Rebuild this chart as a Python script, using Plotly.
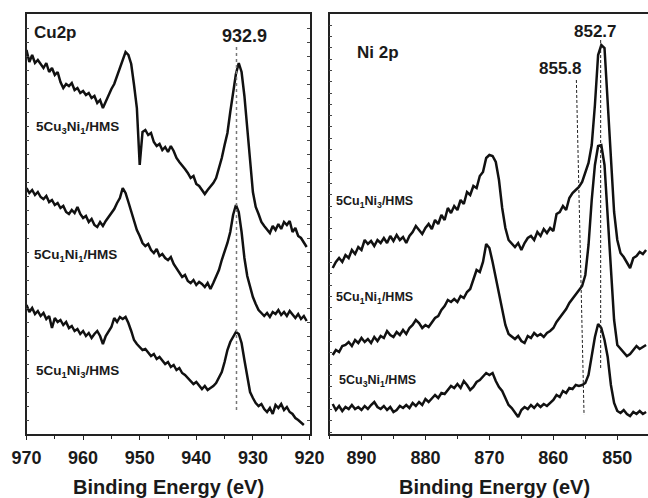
import numpy as np
import plotly.graph_objects as go

# ---------------- data ----------------
# Cu 2p panel: binding energy grid (eV), 0.5 eV step
cu_energy = np.linspace(970.0, 920.5, 100)
cu_3ni1 = [384, 372, 379, 371, 374, 370, 366, 371, 362, 366,
           359, 362, 352, 346, 350, 348, 351, 344, 346, 341,
           343, 339, 341, 336, 338, 331, 334, 326, 333, 338,
           345, 350, 358, 366, 374, 382, 379, 370, 349, 326,
           269, 302, 304, 299, 301, 292, 288, 290, 284, 287,
           282, 288, 283, 276, 272, 269, 265, 261, 256, 258,
           250, 248, 244, 240, 244, 247, 251, 256, 266, 276,
           289, 301, 322, 342, 360, 371, 362, 338, 309, 274,
           242, 227, 220, 212, 208, 204, 201, 208, 204, 210,
           205, 212, 209, 213, 202, 206, 198, 196, 192, 187]
cu_1ni1 = [246, 241, 244, 239, 242, 237, 235, 238, 232, 234,
           229, 231, 226, 228, 222, 220, 224, 221, 227, 220,
           216, 218, 212, 215, 209, 207, 212, 208, 213, 217,
           222, 225, 231, 236, 246, 241, 232, 222, 214, 204,
           198, 191, 188, 190, 184, 181, 185, 178, 180, 176,
           174, 177, 170, 166, 162, 157, 159, 153, 151, 154,
           149, 152, 150, 147, 151, 145, 151, 158, 164, 174,
           182, 191, 202, 219, 229, 222, 202, 176, 158, 146,
           137, 130, 124, 121, 118, 121, 117, 122, 120, 124,
           119, 122, 118, 123, 119, 116, 120, 115, 118, 113]
cu_1ni3 = [129, 122, 126, 120, 123, 118, 121, 115, 118, 106,
           116, 112, 114, 109, 112, 106, 108, 103, 105, 100,
           103, 98, 101, 96, 100, 103, 98, 90, 98, 102,
           107, 116, 112, 117, 115, 117, 111, 103, 94, 90,
           87, 84, 85, 81, 78, 80, 75, 77, 73, 70,
           72, 67, 69, 64, 66, 61, 59, 56, 54, 50,
           52, 48, 45, 48, 44, 46, 48, 51, 56, 62,
           72, 84, 92, 97, 102, 100, 91, 74, 56, 42,
           36, 31, 28, 30, 25, 22, 26, 20, 29, 26,
           30, 24, 27, 22, 20, 16, 14, 11, 9]

# Ni 2p panel: binding energy grid (eV), 0.5 eV step
ni_energy = np.linspace(894.5, 845.5, 99)
ni_1ni3 = [166, 172, 176, 172, 179, 176, 184, 180, 187, 184,
           194, 190, 193, 188, 194, 191, 196, 191, 198, 193,
           199, 194, 197, 191, 198, 202, 208, 204, 200, 206,
           210, 205, 214, 210, 219, 214, 226, 221, 228, 224,
           234, 230, 242, 239, 248, 246, 258, 262, 276, 279,
           278, 272, 254, 226, 206, 194, 190, 187, 191, 184,
           191, 196, 198, 194, 202, 198, 205, 201, 206, 203,
           220, 222, 228, 224, 236, 241, 244, 247, 252, 262,
           271, 289, 329, 379, 389, 386, 329, 269, 222, 194,
           181, 177, 172, 166, 176, 178, 182, 180, 184]
ni_1ni1 = [79, 84, 82, 88, 89, 92, 88, 94, 91, 96,
           92, 95, 91, 97, 93, 98, 96, 103, 99, 97,
           102, 99, 104, 100, 106, 109, 114, 111, 106, 109,
           107, 112, 116, 118, 124, 128, 134, 132, 135, 132,
           138, 136, 142, 145, 154, 164, 162, 172, 190, 186,
           172, 156, 141, 124, 109, 100, 97, 95, 98, 93,
           91, 98, 96, 101, 98, 100, 97, 101, 103, 106,
           112, 116, 120, 125, 131, 135, 140, 144, 148, 159,
           189, 234, 269, 288, 289, 269, 219, 166, 114, 89,
           85, 81, 78, 80, 84, 88, 85, 87, 89]
ni_3ni1 = [30, 24, 28, 23, 27, 25, 29, 25, 27, 24,
           28, 25, 29, 32, 27, 25, 28, 24, 27, 22,
           24, 28, 26, 29, 26, 31, 28, 32, 29, 35,
           32, 36, 39, 36, 41, 40, 44, 48, 46, 50,
           46, 53, 49, 44, 47, 52, 54, 58, 61, 59,
           61, 53, 47, 43, 36, 29, 26, 22, 17, 24,
           27, 25, 29, 26, 30, 27, 30, 28, 31, 34,
           39, 37, 43, 41, 46, 45, 49, 48, 49, 51,
           59, 79, 97, 110, 106, 94, 77, 49, 31, 23,
           21, 24, 20, 18, 22, 20, 23, 20, 22]

# reference peak lines (energy, intensity ends)
cu_ref_x = [932.9, 932.9]
cu_ref_y = [387, 24]
ni_ref1_x = [856.4, 855.2]
ni_ref1_y = [354, 19]
ni_ref2_x = [852.6, 852.6]
ni_ref2_y = [394, 64]

cu_ticks = [970, 960, 950, 940, 930, 920]
ni_ticks = [890, 880, 870, 860, 850]

# ---------------- figure ----------------
W, H = 648, 498
FONT = "Liberation Sans, Arial, sans-serif"
TXT = "#1a1a1a"
LINE = dict(color="#111111", width=2.5)

fig = go.Figure()
for ys, e in [(cu_3ni1, cu_energy), (cu_1ni1, cu_energy), (cu_1ni3, cu_energy[:len(cu_1ni3)])]:
    fig.add_trace(go.Scatter(x=e, y=ys, mode="lines", line=LINE,
                             xaxis="x", yaxis="y", showlegend=False))
for ys in [ni_1ni3, ni_1ni1, ni_3ni1]:
    fig.add_trace(go.Scatter(x=ni_energy, y=ys, mode="lines", line=LINE,
                             xaxis="x2", yaxis="y2", showlegend=False))

fig.add_trace(go.Scatter(x=cu_ref_x, y=cu_ref_y, mode="lines",
                         line=dict(color="#777777", width=1.5, dash="dot"),
                         xaxis="x", yaxis="y", showlegend=False))
for rx, ry in [(ni_ref1_x, ni_ref1_y), (ni_ref2_x, ni_ref2_y)]:
    fig.add_trace(go.Scatter(x=rx, y=ry, mode="lines",
                             line=dict(color="#222222", width=1, dash="3px,2px"),
                             xaxis="x2", yaxis="y2", showlegend=False))

def px(x):
    return x / W

def py(y):
    return 1 - y / H

ydom = [py(434), py(14)]
common_x = dict(showline=True, linecolor="#222222", linewidth=1.5, mirror=True,
                ticks="outside", ticklen=4, tickwidth=1.2, tickcolor="#222222",
                showgrid=False, zeroline=False, automargin=False,
                ticklabelstandoff=3,
                tickfont=dict(family=FONT, size=18, color=TXT, weight="bold"),
                minor=dict(ticks="outside", ticklen=3, dtick=5, tickcolor="#222222", tickwidth=1))
common_y = dict(showline=True, linecolor="#222222", linewidth=1.5,
                ticks="inside", ticklen=3, tickwidth=1, tickcolor="#444444",
                showgrid=False, zeroline=False, showticklabels=False, automargin=False,
                range=[0, 420], domain=ydom)

fig.update_layout(
    width=W, height=H,
    margin=dict(l=0, r=0, t=0, b=0, autoexpand=False),
    paper_bgcolor="white", plot_bgcolor="white",
    xaxis=dict(common_x, domain=[px(26.5), px(309.5)], range=[970, 920],
               tickvals=cu_ticks, anchor="y"),
    yaxis=dict(common_y, mirror="allticks", tick0=0, dtick=14, anchor="x"),
    xaxis2=dict(common_x, domain=[px(329.5), 1.0], range=[895, 845.2],
                tickvals=ni_ticks, anchor="y2"),
    yaxis2=dict(common_y, mirror=False, tick0=2, dtick=11.3, anchor="x2"),
)

def ann(text, x, y, size, xanchor="left", yanchor="middle"):
    fig.add_annotation(text=text, x=px(x), y=py(y), xref="paper", yref="paper",
                       xanchor=xanchor, yanchor=yanchor, showarrow=False,
                       font=dict(family=FONT, size=size, color=TXT, weight="bold"))

ann("Cu2p", 32, 32, 17)
ann("932.9", 244, 36, 18, xanchor="center")
ann("5Cu<sub>3</sub>Ni<sub>1</sub>/HMS", 34, 128, 13.5)
ann("5Cu<sub>1</sub>Ni<sub>1</sub>/HMS", 32, 256, 13.5)
ann("5Cu<sub>1</sub>Ni<sub>3</sub>/HMS", 34, 371, 13.5)
ann("Ni 2p", 355, 53, 17)
ann("855.8", 560, 68, 17, xanchor="center")
ann("852.7", 595, 31, 17, xanchor="center")
ann("5Cu<sub>1</sub>Ni<sub>3</sub>/HMS", 334, 202, 12.5)
ann("5Cu<sub>1</sub>Ni<sub>1</sub>/HMS", 334, 298, 12.5)
ann("5Cu<sub>3</sub>Ni<sub>1</sub>/HMS", 337, 381, 12.5)
ann("Binding Energy (eV)", 168, 487, 20, xanchor="center")
ann("Binding Energy (eV)", 494, 487, 20, xanchor="center")

fig.write_html("out.html")
